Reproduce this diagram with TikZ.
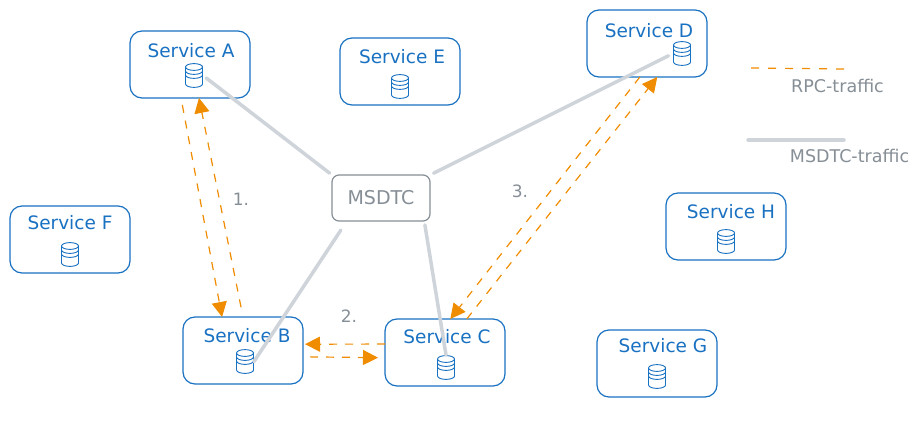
\documentclass[tikz,border=0pt]{standalone}
\usepackage{fontspec}
\setmainfont{DejaVu Sans}
\usetikzlibrary{positioning, arrows.meta}

\definecolor{svcblue}{HTML}{1971C2}
\definecolor{rpcorange}{HTML}{F08C00}
\definecolor{msgray}{HTML}{CED4DA}
\definecolor{txtgray}{HTML}{868E96}

\begin{document}
\begin{tikzpicture}[
	x=1pt, y=1pt,
	svcbox/.style={
		draw=svcblue,
		fill=white,
		line width=1.2pt,
		rounded corners=12pt,
		minimum width=120pt,
		minimum height=67pt,
		outer sep=0pt
	},
	dtcbox/.style={
		draw=txtgray,
		fill=white,
		line width=1.2pt,
		rounded corners=7pt,
		minimum width=98pt,
		minimum height=46pt,
		outer sep=0pt,
		text=txtgray,
		font=\fontsize{19}{22}\selectfont
	},
	svctext/.style={
		text=svcblue,
		inner sep=0pt,
		font=\fontsize{18.5}{22}\selectfont
	},
	dbicon/.style={
		minimum width=18pt,
		minimum height=25pt,
		inner sep=0pt,
		outer sep=0pt,
		path picture={
			\draw[svcblue, line width=0.9pt] ([yshift=-4pt]path picture bounding box.north) ellipse[x radius=8.5pt, y radius=3.4pt];
			\draw[svcblue, line width=0.9pt] ([shift={(0.5pt,-4pt)}]path picture bounding box.north west) -- ([shift={(0.5pt,4pt)}]path picture bounding box.south west) arc[start angle=180, end angle=360, x radius=8.5pt, y radius=3.4pt] -- ([shift={(-0.5pt,-4pt)}]path picture bounding box.north east);
			\draw[svcblue, line width=0.9pt] ([shift={(0.5pt,-8pt)}]path picture bounding box.north west) arc[start angle=180, end angle=360, x radius=8.5pt, y radius=3.4pt];
			\draw[svcblue, line width=0.9pt] ([shift={(0.5pt,-12pt)}]path picture bounding box.north west) arc[start angle=180, end angle=360, x radius=8.5pt, y radius=3.4pt];
		}
	},
	graytext/.style={
		text=txtgray,
		inner sep=0pt,
		font=\fontsize{17.5}{20}\selectfont
	},
	steplabel/.style={
		text=txtgray,
		inner sep=0pt,
		font=\fontsize{17}{20}\selectfont
	},
	rpcarrow/.style={
		draw=rpcorange,
		line width=1.2pt,
		dash pattern=on 8pt off 8pt,
		-{Triangle[length=15pt, width=15pt, fill=rpcorange]}
	},
	rpcline/.style={draw=rpcorange, line width=1.2pt, dash pattern=on 8pt off 9pt},
	msline/.style={draw=msgray, line width=3.5pt, line cap=round}
	]
	\useasboundingbox (0,0) rectangle (918,-422);

	% ======================
	% Services
	% ======================
	\node (svca) [svcbox] at (190,-64.5) {};
	\node (svce) [svcbox, right=90pt of svca, yshift=-7pt] {};
	\node (svcd) [svcbox, right=127pt of svce, yshift=28pt] {};
	\node (svcf) [svcbox, below=108pt of svca, xshift=-120pt] {};
	\node (svcb) [svcbox, below=219pt of svca, xshift=53pt] {};
	\node (svcc) [svcbox, right=82pt of svcb, yshift=-2pt] {};
	\node (svch) [svcbox, below=116pt of svcd, xshift=79pt] {};
	\node (svcg) [svcbox, right=92pt of svcc, yshift=-11pt] {};

	% titles
	\node (ttla) [svctext, below=12pt of svca.north, xshift=1pt] {Service A};
	\node (ttle) [svctext, below=11pt of svce.north, xshift=2pt] {Service E};
	\node (ttld) [svctext, below=13pt of svcd.north, xshift=2pt] {Service D};
	\node (ttlf) [svctext, below=9pt of svcf.north] {Service F};
	\node (ttlb) [svctext, below=11pt of svcb.north, xshift=4pt] {Service B};
	\node (ttlc) [svctext, below=10pt of svcc.north, xshift=2pt] {Service C};
	\node (ttlh) [svctext, below=11pt of svch.north, xshift=5pt] {Service H};
	\node (ttlg) [svctext, below=8pt of svcg.north, xshift=6pt] {Service G};

	% databases
	\node (dba) [dbicon, above=10pt of svca.south, xshift=4pt] {};
	\node (dbe) [dbicon, above=6pt of svce.south] {};
	\node (dbd) [dbicon, above=11pt of svcd.south, xshift=35pt] {};
	\node (dbf) [dbicon, above=6pt of svcf.south] {};
	\node (dbb) [dbicon, above=10pt of svcb.south, xshift=2pt] {};
	\node (dbc) [dbicon, above=6pt of svcc.south, xshift=1pt] {};
	\node (dbh) [dbicon, above=6pt of svch.south] {};
	\node (dbg) [dbicon, above=8pt of svcg.south] {};

	% ======================
	% MSDTC
	% ======================
	\node (msdtc) [dtcbox, below=70pt of svce, xshift=-19pt] {MSDTC};

	\draw[msline, shorten <=3pt, shorten >=4pt] (msdtc.north west) -- (dba.east);
	\draw[msline, shorten <=4pt, shorten >=5pt] (msdtc.north east) -- (dbd.west);
	\draw[msline, shorten <=11pt] (msdtc.214) -- (dbb.east);
	\draw[msline, shorten <=4pt] (msdtc.332) -- (dbc.north);

	% ======================
	% RPC traffic
	% ======================
	\draw[rpcarrow, shorten <=7pt] (svca.255) -- (svcb.122);
	\draw[rpcarrow, shorten <=10pt] (svcb.north) -- (svca.285);
	\draw[rpcarrow, shorten >=2pt] (svcc.172) -- (svcb.6);
	\draw[rpcarrow, shorten <=7pt, shorten >=7pt] (svcb.-6) -- (svcc.185);
	\draw[rpcarrow] (svcc.57) -- (svcd.287);
	\draw[rpcarrow] (svcd.258) -- (svcc.81);

	\node (stepone) [steplabel] at (241,-199) {1.};
	\node (steptwo) [steplabel] at (349,-316) {2.};
	\node (stepthree) [steplabel] at (520,-191) {3.};

	% ======================
	% Legend
	% ======================
	\coordinate (rpcleft) at (751,-68);
	\coordinate (rpcright) at (845,-69);
	\coordinate (msleft) at (748,-140);
	\coordinate (msright) at (844,-140);
	\draw[rpcline] (rpcleft) -- (rpcright);
	\draw[msline] (msleft) -- (msright);
	\node (rpclabel) [graytext] at (837.5,-86) {RPC-traffic};
	\node (mslabel) [graytext] at (849.5,-156) {MSDTC-traffic};

\end{tikzpicture}
\end{document}
